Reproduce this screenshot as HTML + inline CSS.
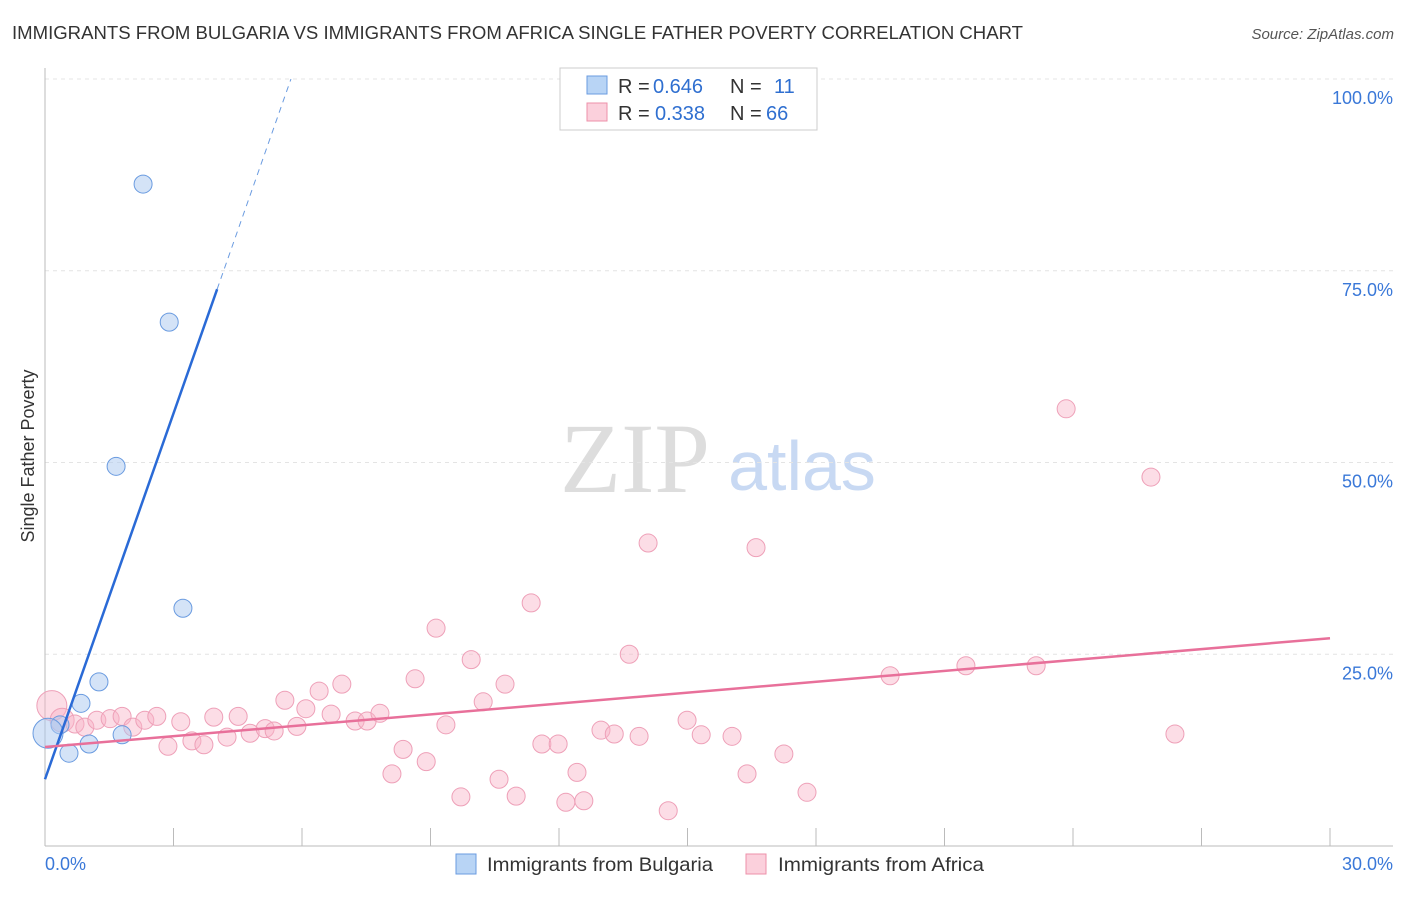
<!DOCTYPE html>
<html><head><meta charset="utf-8"><style>
body{margin:0;background:#fff;font-family:"Liberation Sans",sans-serif;}
</style></head><body>
<svg id="chart" width="1406" height="892" font-family="Liberation Sans, sans-serif">
<text x="12" y="39" font-size="18" fill="#333" textLength="1011" lengthAdjust="spacingAndGlyphs">IMMIGRANTS FROM BULGARIA VS IMMIGRANTS FROM AFRICA SINGLE FATHER POVERTY CORRELATION CHART</text>
<text x="1394" y="39" font-size="15" fill="#555" font-style="italic" text-anchor="end">Source: ZipAtlas.com</text>
<text x="34" y="456" font-size="18" fill="#333" text-anchor="middle" transform="rotate(-90 34 456)">Single Father Poverty</text>
<text x="635" y="492" font-size="100" fill="#ddd" style="font-family:'Liberation Serif',serif" text-anchor="middle">ZIP</text>
<text x="802" y="490" font-size="70" fill="#c8d9f3" text-anchor="middle">atlas</text>
<g id="grid"></g><g id="ticks"></g><g id="pts"></g><g id="lines"></g>
<g font-size="20">
<rect x="560" y="68" width="257" height="62" fill="#fff" stroke="#ccc"/>
<rect x="587" y="76" width="20" height="18" fill="#b8d4f5" stroke="#6a9be0"/>
<text x="618" y="93" fill="#333">R =</text><text x="653" y="93" fill="#2f6fd0">0.646</text>
<text x="730" y="93" fill="#333">N =</text><text x="774" y="93" fill="#2f6fd0">11</text>
<rect x="587" y="103" width="20" height="18" fill="#fbd0dc" stroke="#ee90aa"/>
<text x="618" y="120" fill="#333">R =</text><text x="655" y="120" fill="#2f6fd0">0.338</text>
<text x="730" y="120" fill="#333">N =</text><text x="766" y="120" fill="#2f6fd0">66</text>
</g>
<g>
<rect x="456" y="854" width="20" height="20" fill="#b8d4f5" stroke="#6a9be0"/>
<text x="487" y="871" font-size="19.5" fill="#333" textLength="226" lengthAdjust="spacingAndGlyphs">Immigrants from Bulgaria</text>
<rect x="746" y="854" width="20" height="20" fill="#fbd0dc" stroke="#ee90aa"/>
<text x="778" y="871" font-size="19.5" fill="#333" textLength="206" lengthAdjust="spacingAndGlyphs">Immigrants from Africa</text>
</g>
</svg>
<script>
const yTicks=[25,50,75,100];
const yTickLabels=["25.0%","50.0%","75.0%","100.0%"];
const xTickLabels=["0.0%","30.0%"];
const bulgariaX=[2.29,2.90,1.66,3.22,1.26,0.84,0.35,1.03,1.80,0.56,0.07];
const bulgariaY=[86.3,68.3,49.5,31.0,21.4,18.6,15.8,13.3,14.5,12.1,14.7];
const africaX=[0.16,0.40,0.70,0.93,1.21,1.52,1.80,2.05,2.33,2.61,2.87,3.17,3.43,3.71,3.94,4.25,4.51,4.79,5.14,5.35,5.60,5.88,6.09,6.40,6.68,6.93,7.24,7.52,7.82,8.10,8.36,8.64,8.90,9.13,9.36,9.71,9.95,10.23,10.60,10.74,11.00,11.35,11.60,11.98,12.16,12.42,12.58,12.98,13.29,13.64,13.87,14.08,14.55,14.99,15.32,16.04,16.39,16.60,17.25,17.79,19.73,21.50,23.14,23.84,25.82,26.38];
const africaY=[18.3,16.4,15.9,15.5,16.4,16.6,16.9,15.5,16.4,16.9,13.0,16.2,13.7,13.2,16.8,14.2,16.9,14.7,15.3,15.0,19.0,15.6,17.9,20.2,17.2,21.1,16.3,16.3,17.3,9.4,12.6,21.8,11.0,28.4,15.8,6.4,24.3,18.8,8.7,21.1,6.5,31.7,13.3,13.3,5.7,9.6,5.9,15.1,14.6,25.0,14.3,39.5,4.6,16.4,14.5,14.3,9.4,38.9,12.0,7.0,22.2,23.5,23.5,57.0,48.1,14.6];
const bulgariaTrend=[8.7,15.9]; // intercept, slope
const africaTrend=[12.9,0.473];
const NS="http://www.w3.org/2000/svg";
const X=v=>45+v*(1330-45)/30, Y=v=>846-v*7.67;
function mk(t,a,p){const e=document.createElementNS(NS,t);for(const k in a)e.setAttribute(k,a[k]);p.appendChild(e);return e;}
const grid=document.getElementById('grid'),ticks=document.getElementById('ticks'),pts=document.getElementById('pts'),lines=document.getElementById('lines');
yTicks.forEach((t,i)=>{
 const l=mk('line',{x1:45,x2:1393,y1:Y(t),y2:Y(t),stroke:'#e4e4e4','stroke-dasharray':'4,4'},grid);
 
 
 const tx=mk('text',{x:1393,y:Y(t)+25,'font-size':18,fill:'#3a78d8','text-anchor':'end'},ticks);tx.textContent=yTickLabels[i];
 
 
});
mk('line',{x1:45,x2:45,y1:68,y2:846,stroke:'#bbb'},ticks);
mk('line',{x1:45,x2:1393,y1:846,y2:846,stroke:'#bbb'},ticks);
for(let i=0;i<=10;i++){const x=X(i*3);mk('line',{x1:x,x2:x,y1:828,y2:846,stroke:'#bbb'},ticks);}
const t0=mk('text',{x:45,y:870,'font-size':18,fill:'#3a78d8'},ticks);t0.textContent=xTickLabels[0];


const t1=mk('text',{x:1393,y:870,'font-size':18,fill:'#3a78d8','text-anchor':'end'},ticks);t1.textContent=xTickLabels[1];


africaX.forEach((x,i)=>{const c=mk('circle',{cx:X(x),cy:Y(africaY[i]),r:i==0?15:(i==1?12:9),fill:'rgba(248,180,200,0.45)',stroke:'#eea0b8','stroke-width':1},pts);
 
 });
bulgariaX.forEach((x,i)=>{const c=mk('circle',{cx:X(x),cy:Y(bulgariaY[i]),r:i==10?15:9,fill:'rgba(170,200,240,0.5)',stroke:'#6a9be0','stroke-width':1},pts);
 
 });
const bx1=(72.6-bulgariaTrend[0])/bulgariaTrend[1], bx2=(100-bulgariaTrend[0])/bulgariaTrend[1];
const bl=mk('line',{x1:X(0),y1:Y(bulgariaTrend[0]),x2:X(bx1),y2:Y(bulgariaTrend[0]+bulgariaTrend[1]*bx1),stroke:'#2a6ad6','stroke-width':2.5},lines);


const bd=mk('line',{x1:X(bx1),y1:Y(bulgariaTrend[0]+bulgariaTrend[1]*bx1),x2:X(bx2),y2:Y(100),stroke:'#6a9be0','stroke-width':1,'stroke-dasharray':'6,5'},lines);


const al=mk('line',{x1:X(0),y1:Y(africaTrend[0]),x2:X(30),y2:Y(africaTrend[0]+africaTrend[1]*30),stroke:'#e8709a','stroke-width':2.5},lines);


</script>
</body></html>
